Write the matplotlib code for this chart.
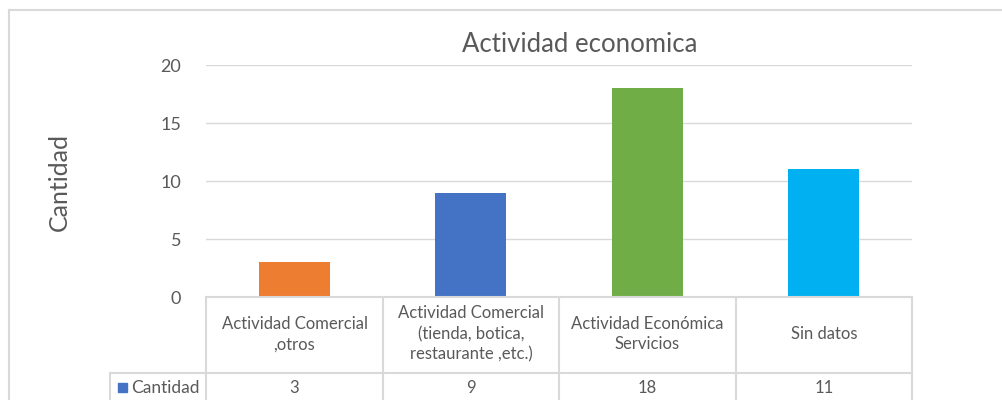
import matplotlib
matplotlib.use("Agg")
import matplotlib.pyplot as plt
from matplotlib.lines import Line2D
from matplotlib.patches import Rectangle

categories = ["Actividad Comercial\n,otros",
              "Actividad Comercial\n(tienda, botica,\nrestaurante ,etc.)",
              "Actividad Económica\nServicios",
              "Sin datos"]
values = [3, 9, 18, 11]
colors = ["#ED7D31", "#4472C4", "#70AD47", "#00B0F0"]
series_name = "Cantidad"
title = "Actividad economica"
yticks = [0, 5, 10, 15, 20]

plt.rcParams['font.family'] = ['Lato', 'DejaVu Sans']
W, H = 1002, 400
fig = plt.figure(figsize=(W / 100, H / 100), dpi=100)
grid_c = "#D9D9D9"
text_c = "#595959"

def fx(px):
    return px / W

def fy(py):
    return 1 - py / H

ax = fig.add_axes([fx(206), fy(297), fx(912) - fx(206), fy(65) - fy(297)])
x = list(range(len(categories)))
ax.bar(x, values, width=0.4, color=colors, zorder=3)
ax.set_xlim(-0.5, len(categories) - 0.5)
ax.set_ylim(0, 20)
ax.set_yticks(yticks)
ax.set_yticklabels([str(t) for t in yticks], color=text_c, fontsize=13)
ax.tick_params(axis='y', length=0, pad=18)
ax.set_xticks([])
for s in ax.spines.values():
    s.set_visible(False)
ax.grid(axis='y', color=grid_c, linewidth=1, zorder=0)
ax.set_axisbelow(True)
fig.text(fx(580), fy(45), title, ha='center', va='center', color=text_c, fontsize=18.5)

# outer frame
fig.add_artist(Line2D([fx(9), 1.0], [fy(10), fy(10)], color=grid_c, lw=1.5))
fig.add_artist(Line2D([fx(9), fx(9)], [fy(10), 0], color=grid_c, lw=1.5))

# y label
fig.text(fx(59), fy(182), "Cantidad", rotation=90, ha='center', va='center',
         color=text_c, fontsize=18)

# data table
col_edges = [206, 383, 559, 736, 912]
row_top, row_mid = 297, 373
fig.add_artist(Line2D([fx(206), fx(912)], [fy(row_top), fy(row_top)], color=grid_c, lw=1.5))
fig.add_artist(Line2D([fx(110), fx(912)], [fy(row_mid), fy(row_mid)], color=grid_c, lw=1.5))
for ce in col_edges:
    fig.add_artist(Line2D([fx(ce), fx(ce)], [fy(row_top), 0], color=grid_c, lw=1.5))
fig.add_artist(Line2D([fx(110), fx(110)], [fy(row_mid), 0], color=grid_c, lw=1.5))

for i, (cat, v) in enumerate(zip(categories, values)):
    cx = (col_edges[i] + col_edges[i + 1]) / 2
    fig.text(fx(cx), fy((row_top + row_mid) / 2 - 1), cat, ha='center', va='center',
             color=text_c, fontsize=12, linespacing=1.35)
    fig.text(fx(cx), fy(388), str(v), ha='center', va='center',
             color=text_c, fontsize=12)

fig.add_artist(Rectangle((fx(118), fy(392)), fx(9), fy(383) - fy(392),
                         color="#4472C4", transform=fig.transFigure))
fig.text(fx(131), fy(388), series_name, ha='left', va='center',
         color=text_c, fontsize=12.5)

fig.savefig("out.png", dpi=100, facecolor="white")
